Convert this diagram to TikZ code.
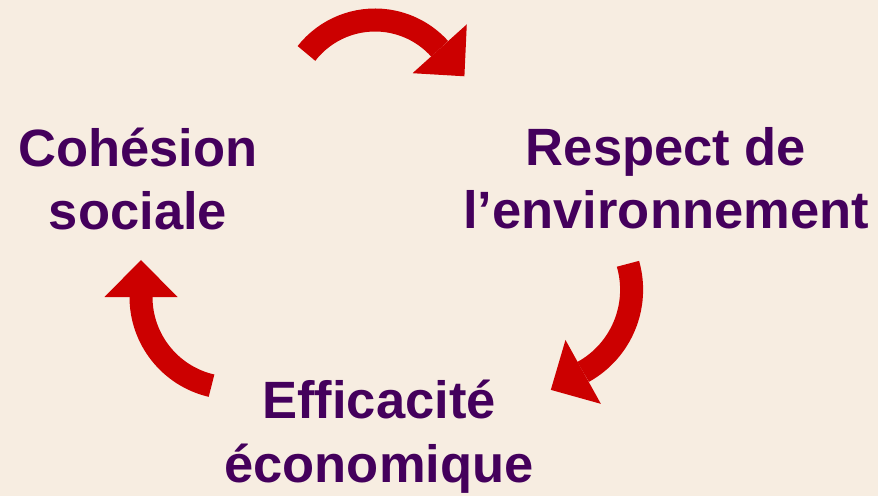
\documentclass[tikz,border=0pt]{standalone}
\usepackage{fontspec}
\setmainfont[Ligatures=NoCommon]{Liberation Sans}
\usepackage{xcolor}
\definecolor{cyclebg}{RGB}{247,237,225}
\definecolor{cyclered}{RGB}{204,0,0}
\definecolor{cyclepurple}{RGB}{68,0,92}
\usetikzlibrary{calc}
\tikzset{
  pillar/.style={font=\fontsize{52.5}{63.5}\selectfont\bfseries, text=cyclepurple, align=center, anchor=base, inner sep=0pt},
  cyclearrow/.style={draw=cyclered, line width=23pt},
}

\begin{document}
\begin{tikzpicture}[x=1pt,y=1pt]
  \fill [cyclebg] (0,0) rectangle (878,496);
  \useasboundingbox (0,0) rectangle (878,496);

  \node [pillar] (social) at (138,266) {Cohésion\\sociale};
  \node [pillar] (environment) at (666,267) {Respect de\\l’environnement};
  \node [pillar] (economy) at (379,14) {Efficacité\\économique};

  % arc centre / radius / start angle / end angle
  \foreach \cx/\cy/\r/\a/\b in {375/389/87/142/42, 537.6/206.3/94/16/-61, 232/199/91/-103/-180} {
    \draw [cyclearrow] (\cx,\cy) ++(\a:\r) arc [start angle=\a, end angle=\b, radius=\r];
    \fill [cyclered] ($(\cx,\cy)+(\b:\r-36.5)$) -- ($(\cx,\cy)+(\b:\r+36.5)$) -- ($(\cx,\cy)+(\b:\r)+(\b-90:37)$) -- cycle;
  }
\end{tikzpicture}
\end{document}
